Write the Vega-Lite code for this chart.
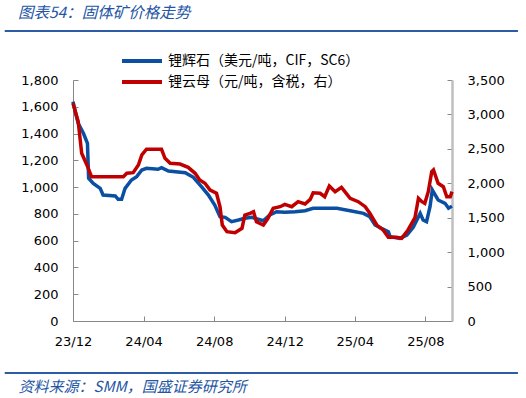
{
  "$schema": "https://vega.github.io/schema/vega-lite/v6.json",
  "width": 379,
  "height": 241,
  "autosize": {"type": "none"},
  "padding": {"left": 73, "top": 80, "right": 74, "bottom": 77},
  "background": "white",
  "config": {"view": {"stroke": null}, "font": "DejaVu Sans"},
  "title": {
    "text": "图表54：固体矿价格走势",
    "anchor": "start",
    "frame": "group",
    "dx": -55,
    "font": "Noto Sans CJK SC",
    "fontStyle": "italic",
    "fontWeight": "normal",
    "fontSize": 15.5,
    "color": "#2456a4",
    "offset": 8
  },
  "datasets": {
    "spod": [
      {"date": "2023-12-01", "value": 1638}, {"date": "2023-12-05", "value": 1560}, {"date": "2023-12-10", "value": 1477},
      {"date": "2023-12-19", "value": 1402}, {"date": "2023-12-26", "value": 1327}, {"date": "2023-12-28", "value": 1066},
      {"date": "2024-01-05", "value": 1028}, {"date": "2024-01-17", "value": 991}, {"date": "2024-01-22", "value": 941},
      {"date": "2024-02-12", "value": 934}, {"date": "2024-02-17", "value": 909}, {"date": "2024-02-23", "value": 909},
      {"date": "2024-02-29", "value": 991}, {"date": "2024-03-11", "value": 1053}, {"date": "2024-03-20", "value": 1078},
      {"date": "2024-03-29", "value": 1128}, {"date": "2024-04-06", "value": 1140}, {"date": "2024-04-26", "value": 1133},
      {"date": "2024-05-02", "value": 1145}, {"date": "2024-05-14", "value": 1120}, {"date": "2024-06-12", "value": 1108},
      {"date": "2024-06-26", "value": 1073}, {"date": "2024-07-10", "value": 1003}, {"date": "2024-07-22", "value": 941},
      {"date": "2024-08-02", "value": 866}, {"date": "2024-08-11", "value": 779}, {"date": "2024-08-20", "value": 774},
      {"date": "2024-08-31", "value": 742}, {"date": "2024-09-12", "value": 754}, {"date": "2024-09-23", "value": 767},
      {"date": "2024-10-05", "value": 774}, {"date": "2024-10-16", "value": 760}, {"date": "2024-10-25", "value": 749},
      {"date": "2024-11-05", "value": 792}, {"date": "2024-11-17", "value": 816}, {"date": "2024-12-01", "value": 812},
      {"date": "2024-12-19", "value": 816}, {"date": "2025-01-05", "value": 824}, {"date": "2025-01-19", "value": 842},
      {"date": "2025-03-01", "value": 842}, {"date": "2025-03-24", "value": 824}, {"date": "2025-04-16", "value": 804},
      {"date": "2025-04-27", "value": 779}, {"date": "2025-05-06", "value": 717}, {"date": "2025-05-17", "value": 692},
      {"date": "2025-05-29", "value": 667}, {"date": "2025-06-01", "value": 630}, {"date": "2025-06-18", "value": 617},
      {"date": "2025-06-30", "value": 642}, {"date": "2025-07-11", "value": 700}, {"date": "2025-07-23", "value": 804},
      {"date": "2025-07-28", "value": 754}, {"date": "2025-08-03", "value": 742}, {"date": "2025-08-09", "value": 854},
      {"date": "2025-08-13", "value": 978}, {"date": "2025-08-23", "value": 904}, {"date": "2025-09-04", "value": 879},
      {"date": "2025-09-10", "value": 842}, {"date": "2025-09-16", "value": 858}
    ],
    "lepi": [
      {"date": "2023-12-01", "value": 3162}, {"date": "2023-12-10", "value": 2895}, {"date": "2023-12-16", "value": 2435},
      {"date": "2023-12-25", "value": 2266}, {"date": "2024-01-02", "value": 2096}, {"date": "2024-02-26", "value": 2096},
      {"date": "2024-03-03", "value": 2145}, {"date": "2024-03-14", "value": 2154}, {"date": "2024-03-23", "value": 2266},
      {"date": "2024-03-29", "value": 2411}, {"date": "2024-04-06", "value": 2494}, {"date": "2024-05-02", "value": 2494},
      {"date": "2024-05-08", "value": 2363}, {"date": "2024-05-17", "value": 2290}, {"date": "2024-06-03", "value": 2280},
      {"date": "2024-06-17", "value": 2232}, {"date": "2024-06-29", "value": 2145}, {"date": "2024-07-07", "value": 2048},
      {"date": "2024-07-16", "value": 2000}, {"date": "2024-07-25", "value": 1902}, {"date": "2024-08-05", "value": 1855},
      {"date": "2024-08-11", "value": 1660}, {"date": "2024-08-15", "value": 1394}, {"date": "2024-08-23", "value": 1297},
      {"date": "2024-09-06", "value": 1282}, {"date": "2024-09-18", "value": 1346}, {"date": "2024-09-23", "value": 1539},
      {"date": "2024-10-02", "value": 1564}, {"date": "2024-10-08", "value": 1588}, {"date": "2024-10-13", "value": 1442},
      {"date": "2024-10-25", "value": 1394}, {"date": "2024-11-02", "value": 1491}, {"date": "2024-11-11", "value": 1637},
      {"date": "2024-11-23", "value": 1660}, {"date": "2024-12-01", "value": 1694}, {"date": "2024-12-13", "value": 1660},
      {"date": "2024-12-24", "value": 1733}, {"date": "2025-01-05", "value": 1699}, {"date": "2025-01-14", "value": 1767},
      {"date": "2025-01-19", "value": 1863}, {"date": "2025-01-31", "value": 1855}, {"date": "2025-02-08", "value": 1805},
      {"date": "2025-02-16", "value": 1960}, {"date": "2025-02-26", "value": 1878}, {"date": "2025-03-09", "value": 1941},
      {"date": "2025-03-24", "value": 1782}, {"date": "2025-04-07", "value": 1733}, {"date": "2025-04-19", "value": 1660},
      {"date": "2025-04-27", "value": 1564}, {"date": "2025-05-09", "value": 1394}, {"date": "2025-05-20", "value": 1322},
      {"date": "2025-05-29", "value": 1215}, {"date": "2025-06-12", "value": 1215}, {"date": "2025-06-21", "value": 1201},
      {"date": "2025-07-02", "value": 1322}, {"date": "2025-07-14", "value": 1500}, {"date": "2025-07-20", "value": 1782},
      {"date": "2025-07-26", "value": 1733}, {"date": "2025-07-31", "value": 1709}, {"date": "2025-08-06", "value": 1878},
      {"date": "2025-08-12", "value": 2168}, {"date": "2025-08-15", "value": 2193}, {"date": "2025-08-23", "value": 2000},
      {"date": "2025-09-01", "value": 1950}, {"date": "2025-09-07", "value": 1805}, {"date": "2025-09-13", "value": 1805},
      {"date": "2025-09-16", "value": 1878}
    ]
  },
  "layer": [
    {
      "data": {"name": "spod"},
      "mark": {"type": "line", "strokeWidth": 3.5, "color": "#0b4fa3", "clip": false},
      "encoding": {
        "x": {
          "field": "date", "type": "temporal",
          "scale": {"type": "utc", "domain": [{"year": 2023, "month": 12, "date": 1, "utc": true}, {"year": 2025, "month": 9, "date": 16, "utc": true}]},
          "axis": {
            "values": [{"year": 2023, "month": 12, "date": 1, "utc": true}, {"year": 2024, "month": 4, "date": 1, "utc": true}, {"year": 2024, "month": 8, "date": 1, "utc": true}, {"year": 2024, "month": 12, "date": 1, "utc": true}, {"year": 2025, "month": 4, "date": 1, "utc": true}, {"year": 2025, "month": 8, "date": 1, "utc": true}],
            "format": "%y/%m", "grid": false, "tickSize": -5, "tickColor": "#888888", "domainColor": "#888888",
            "labelFont": "DejaVu Sans", "labelFontSize": 13, "labelColor": "#000000", "labelPadding": 19, "labelFlush": false,
            "title": "资料来源：SMM，国盛证券研究所", "titleAnchor": "start", "titleAlign": "left", "titleX": -55, "titleY": 65,
            "titleBaseline": "middle", "titleFont": "Noto Sans CJK SC", "titleFontStyle": "italic", "titleFontWeight": "normal",
            "titleFontSize": 15, "titleColor": "#2456a4"
          }
        },
        "y": {
          "field": "value", "type": "quantitative",
          "scale": {"domain": [0, 1800], "nice": false, "zero": true},
          "axis": {
            "orient": "left", "values": [0, 200, 400, 600, 800, 1000, 1200, 1400, 1600, 1800], "format": ",.0f",
            "grid": false, "title": null, "tickSize": -5, "tickColor": "#888888", "domainColor": "#888888",
            "labelFont": "DejaVu Sans", "labelFontSize": 13, "labelColor": "#000000", "labelPadding": 20
          }
        },
        "color": {
          "datum": "锂辉石（美元/吨，CIF，SC6）",
          "scale": {"domain": ["锂辉石（美元/吨，CIF，SC6）", "锂云母（元/吨，含税，右）"], "range": ["#0b4fa3", "#c00000"]},
          "legend": {
            "orient": "none", "legendX": 62, "legendY": -26, "direction": "vertical", "title": null, "padding": 0,
            "symbolType": "M-4,0H4", "symbolSize": 100, "symbolStrokeWidth": 4, "labelOffset": 19, "rowPadding": 5,
            "labelFont": "Noto Sans CJK SC", "labelFontSize": 14, "labelColor": "#000000", "labelLimit": 400
          }
        }
      }
    },
    {
      "data": {"name": "lepi"},
      "mark": {"type": "line", "strokeWidth": 3.5, "color": "#c00000", "clip": false},
      "encoding": {
        "x": {
          "field": "date", "type": "temporal",
          "scale": {"type": "utc", "domain": [{"year": 2023, "month": 12, "date": 1, "utc": true}, {"year": 2025, "month": 9, "date": 16, "utc": true}]}
        },
        "y": {
          "field": "value", "type": "quantitative",
          "scale": {"domain": [0, 3500], "nice": false, "zero": true},
          "axis": {
            "orient": "right", "values": [0, 500, 1000, 1500, 2000, 2500, 3000, 3500], "format": ",.0f",
            "grid": false, "title": null, "tickSize": -5, "tickColor": "#888888", "domainColor": "#bfbfbf", "domainWidth": 2.5,
            "labelFont": "DejaVu Sans", "labelFontSize": 13, "labelColor": "#000000", "labelPadding": 20
          }
        },
        "color": {"datum": "锂云母（元/吨，含税，右）"}
      }
    },
    {
      "data": {"values": [{}]},
      "mark": {"type": "rule", "color": "#2d5ca6", "strokeWidth": 2, "clip": false},
      "encoding": {
        "x": {"datum": {"year": 2023, "month": 8, "date": 5, "utc": true}, "type": "temporal",
          "scale": {"type": "utc", "domain": [{"year": 2023, "month": 12, "date": 1, "utc": true}, {"year": 2025, "month": 9, "date": 16, "utc": true}]}},
        "x2": {"datum": {"year": 2026, "month": 1, "date": 8, "utc": true}},
        "y": {"datum": 2166, "type": "quantitative", "scale": {"domain": [0, 1800], "nice": false}, "axis": null}
      }
    },
    {
      "data": {"values": [{}]},
      "mark": {"type": "rule", "color": "#2d5ca6", "strokeWidth": 2, "clip": false},
      "encoding": {
        "x": {"datum": {"year": 2023, "month": 8, "date": 5, "utc": true}, "type": "temporal",
          "scale": {"type": "utc", "domain": [{"year": 2023, "month": 12, "date": 1, "utc": true}, {"year": 2025, "month": 9, "date": 16, "utc": true}]}},
        "x2": {"datum": {"year": 2026, "month": 1, "date": 8, "utc": true}},
        "y": {"datum": -388, "type": "quantitative", "scale": {"domain": [0, 1800], "nice": false}, "axis": null}
      }
    }
  ],
  "resolve": {"scale": {"y": "independent"}}
}
